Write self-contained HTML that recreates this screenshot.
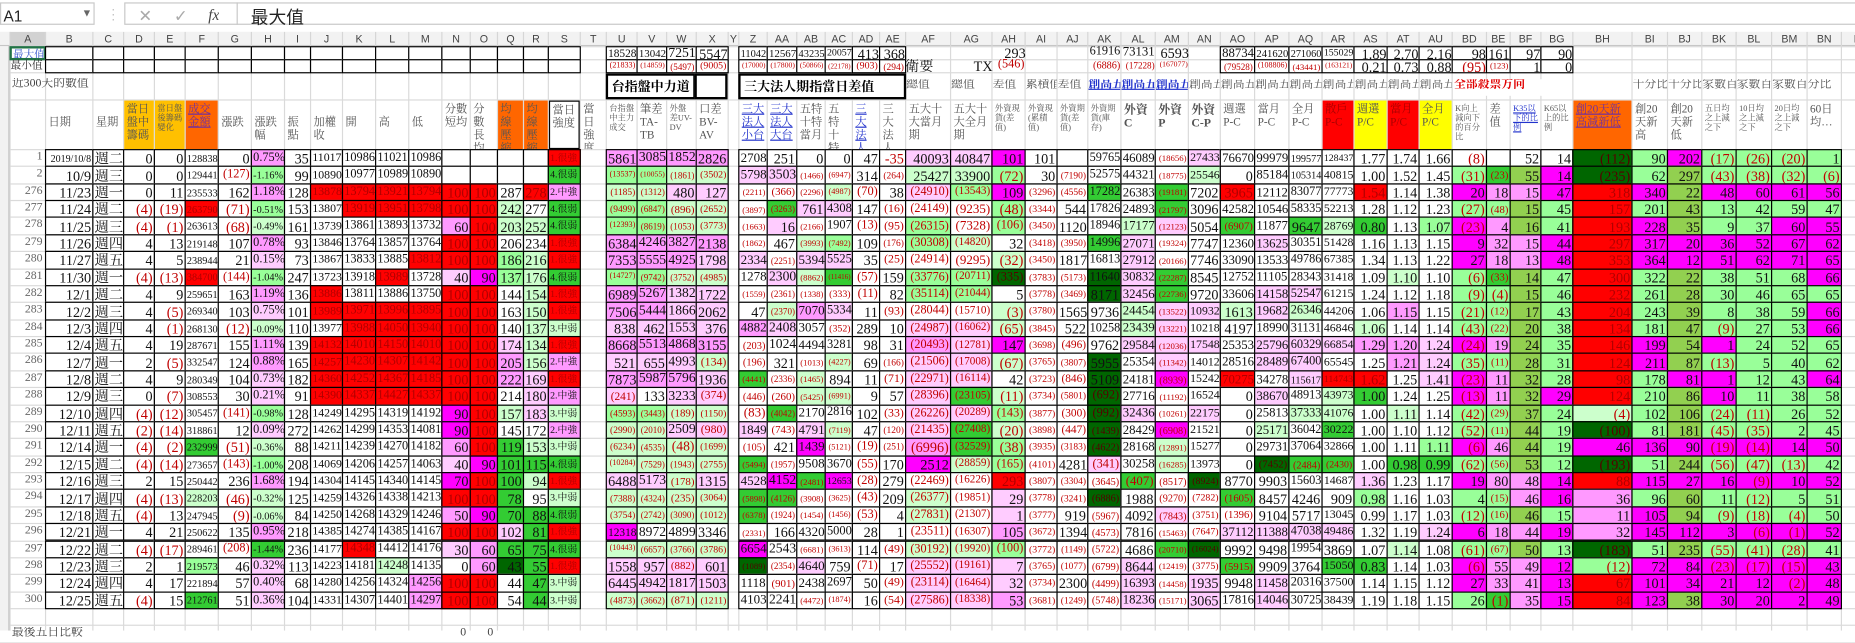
<!DOCTYPE html>
<html><head><meta charset="utf-8">
<style>
html,body{margin:0;padding:0;background:#fff;overflow:hidden;width:1855px;height:631px}
#wrap{position:absolute;left:0;top:0;width:1568px;height:533px;transform:scale(1.18304);transform-origin:0 0;font-family:"Liberation Serif","Noto Serif CJK SC","Noto Sans CJK TC",serif}
.c{position:absolute;box-sizing:border-box;overflow:hidden;white-space:nowrap;line-height:1}
</style></head><body>
<div id="wrap">
  <div class="c" style="left:0;top:2px;width:80px;height:19px;border:1px solid #c8c8c8;font:13px 'Liberation Sans',sans-serif;padding:3px 2px;color:#222">A1<span style="position:absolute;left:68px;top:3px;font-size:9px;color:#666">▼</span></div>
  <div class="c" style="left:90px;top:5px;width:6px;height:14px;font:12px sans-serif;color:#999">⋮</div>
  <div class="c" style="left:105px;top:2px;width:1470px;height:19px;border:1px solid #c8c8c8"></div>
  <div class="c" style="left:117px;top:5px;font:14px sans-serif;color:#aaa">✕</div>
  <div class="c" style="left:147px;top:5px;font:14px sans-serif;color:#aaa">✓</div>
  <div class="c" style="left:176px;top:5px;font:italic 13px 'Liberation Serif',serif;color:#444">fx</div>
  <div class="c" style="left:200px;top:2px;width:1px;height:19px;background:#c8c8c8"></div>
  <div class="c" style="left:212px;top:4px;font:15px 'Liberation Sans','Noto Sans CJK TC',sans-serif;color:#222">最大值</div>
</div>
<script>
const colDefs=[["A",8,38],["B",38,78],["C",78,104],["D",104,130],["E",130,156],["F",156,184],["G",184,212],["H",212,240],["I",240,262],["J",262,289],["K",289,317],["L",317,345],["M",345,373],["N",373,397],["O",397,420],["Q",420,442],["R",442,463],["S",463,490],["T",490,512],["U",512,538],["V",538,563],["W",563,588],["X",588,615],["Y",615,624],["Z",624,648],["AA",648,673],["AB",673,697],["AC",697,720],["AD",720,743],["AE",743,765],["AF",765,803],["AG",803,838],["AH",838,866],["AI",866,893],["AJ",893,919],["AK",919,947],["AL",947,976],["AM",976,1004],["AN",1004,1031],["AO",1031,1060],["AP",1060,1089],["AQ",1089,1117],["AR",1117,1144],["AS",1144,1172],["AT",1172,1199],["AU",1199,1227],["BD",1227,1256],["BE",1256,1276],["BF",1276,1302],["BG",1302,1329],["BH",1329,1379],["BI",1379,1409],["BJ",1409,1438],["BK",1438,1467],["BL",1467,1497],["BM",1497,1527],["BN",1527,1556],["BO",1556,1590]];
const dataCols=colDefs.map(c=>c[0]).filter(c=>c!=="T"&&c!=="Y"&&c!=="BO");
const rowLabels=["5","6","280","281","282","283","284","285","286","287","288","289","290","291","292","293","294","295","296","297","298","299","300","301","302","303","304"];
const rows=[
"1 2019/10/8 週二 0 0 128838 0 0.75%:P 35 11017 10986 11021 10986 _ _ _ _ 1.很強:R 5861:P 3085:P 1852:P 2826:P 2708 251 0 0 47 -35 40093:p 40847:p 101:M 101 _ 59765 46089 (18656) 27433:p 76670 99979 199577 128437 1.77 1.74 1.66 (8) _ 52 14 (112):D 90:g 202:M (17):g (26):g (20):g 1:g",
"2 10/9 週三 0 0 129441 (127) -1.16%:g 99 10890 10977 10989 10890 _ _ _ _ 4.很弱:G (13537):g (10055):g (1861):l (3502):l 5798:p 3503:p (1466) (6947) 314 (264) 25427:l 33900:l (72):g 30 (7190) 52575 44321 (18775) 25546:l 0 85184 105314 40815 1.00 1.52 1.45 (31):g (23):G 55:o 14:M (235):D 62:g 297:o (43):g (38):g (32):g (6):g",
"276 11/23 週一 0 11 235533 162 1.18%:P 128 13878:R 13794:R 13921:R 13794:R 100:R 100:R 287 278:R 2.中強:P (1185):l (1312):l 480:p 127:p (2211) (366) (2296) (4987):l (70) 38 (24910):p (13543):g 109:M (3296) (4556) 17282:G 26383 (19181):G 7202 3965:R 12112 83077 77773 1.54:R 1.14 1.38 20:M 18:P 15:P 47:M 318:R 340:M 22:o 48:M 60:M 61:M 56:M",
"277 11/24 週二 (4) (19) 263790:R (71) -0.51%:g 153 13807 13919:R 13951:R 13798:R 100:R 100:R 242:l 277 4.很弱:G (9499):g (6847):g (896):l (2652):l (3897) (3263):G 761:p 4308:p 147 (16) (24149) (9235) (48):g (3344) 544 17826 24893 (21797):G 3096 42582 10546 58335 52213 1.28 1.12 1.23 (27):g (48):g 15:o 45:g 157:R 201:g 43:o 13:g 42:g 59:g 47:g",
"278 11/25 週三 (4) (1) 263613 (68) -0.49%:l 161 13739 13861 13893 13732 60:P 100:R 203:l 252:l 4.很弱:G (12393):g (8619):g (1053):l (3773):l (1663) 16:p (2166) 1907 (13) (95) (26315):g (7328) (106):g (3450) 1120 18946 17177:l (12123):p 5054 (6907):G 11877 9647:G 28769:l 0.80:G 1.13 1.07:g (23):M 4:P 16:o 41:g 193:R 228:M 35:o 9:g 37:g 60:M 55:M",
"279 11/26 週四 4 13 219148 107 0.78%:P 93 13846 13764 13857 13764 100:R 100:R 206 234 1.很強:R 6384:P 4246:P 3827:P 2138:P (1862) 467 (3993):l (7492):g 109 (176) (30308):g (14820):l 32 (3418) (3950) 14996:G 27071:p (19324) 7747 12360 13625:p 30351 51428 1.16 1.13 1.15 9:M 32:P 15:P 44:M 297:R 317:M 20:M 36:M 52:M 67:M 62:M",
"280 11/27 週五 4 5 238944 21 0.15%:p 73 13867 13833 13885 13812:R 100:R 100:R 186:g 216:l 1.很強:R 7353:P 5555:P 4925:P 1798:p 2334:p (2251) 5394:p 5525:p 35 (25) (24914) (9295) (32):l (3450) 1817 16813 27912:p (20166) 7746 33090 13533 49786 67385 1.34 1.13 1.22 27:M 18:P 13:P 48:M 353:R 364:M 12:M 51:M 62:M 71:M 65:M",
"281 11/30 週一 (4) (13) 384700:R (144) -1.04%:g 247 13723 13918 13989:R 13728 40:p 90:M 137:g 176:l 4.很弱:G (14727):g (9742):g (3752):l (4985):l 1278 2300:p (8862):l (11416):G (57) 159 (33776):g (20711):g (335):D (3783) (5173) 11640:D 30832:p (22287):G 8545 12752 11105 28343 31418 1.09 1.10:l 1.10 (6):g (33):G 14:o 47:g 300:R 322:g 22:o 38:g 51:g 68:g 66:M",
"282 12/1 週二 4 9 259651 163 1.19%:P 136 13886:R 13811 13886 13750 100:R 100:R 144 154:l 1.很強:R 6989:P 5267:P 1382:p 1722:p (1559) (2361) (1338) (333) (11) 82 (35114):g (21044):g 5 (3778) (3469) 8171:D 32456:p (22736):G 9720 33606 14158:p 52547:p 61215 1.24 1.12 1.18 (9):g (4):g 15:o 46:g 232:R 261:g 28:o 30:g 46:g 65:g 65:g",
"283 12/2 週三 4 (5) 269340 103 0.75%:p 101 13989:R 13971:R 13996:R 13895:R 100:R 100:R 163 150:l 1.很強:R 7506:P 5444:P 1866:p 2062:p 47 (2370):l 7070:P 5334:p 11 (93) (28044) (15710) (3):l (3780) 1565 9736 24454:l (13522):p 10932:p 1613:l 19682:p 26346:l 44206 1.06 1.15:P 1.15 (21):g (12):g 17:o 43:g 204:R 243:g 39:o 8:g 38:g 59:g 66:M",
"284 12/3 週四 4 (1) 268130 (12) -0.09%:l 110 13977 13988:R 14050:R 13940:R 100:R 100:R 140 137:l 3.中弱:l 838:p 462:p 1553:p 376:p 4882:P 2408:p 3057 (352) 289 10 (24987):p (16062):p (65):l (3845) 522 10258 23439:l (13221):p 10218 4197 18990 31131 46846 1.06:l 1.14 1.14 (43):g (22):g 20:o 38:g 134:R 181:g 47:o (9):g 27:g 53:g 66:M",
"285 12/4 週五 4 19 287671 155 1.11%:P 139 14132:R 14010:R 14150:R 14010:R 100:R 100:R 174:p 134:l 1.很強:R 8668:P 5513:P 4868:P 3155:P (203) 1024 4494 3281 98 31 (20493):P (12781):p 147:M (3698) (496) 9762 29584:p (12036):p 17548:p 25353 25796:p 60329:p 66854:p 1.29:P 1.20:P 1.24:p (24):M 19:P 24:o 35:g 146:R 199:M 54:o 1:M 24:g 52:g 65:g",
"286 12/7 週一 2 (5) 332547 124 0.88%:P 165 14257:R 14230:R 14307:R 14142:R 100:R 100:R 205:P 156:l 2.中強:P 521:p 655:p 4993:p (134):l (196) 321 (1013) (4227):l 69 (166) (21506):p (17008):p (67):l (3765) (3807) 5955:D 25354 (11342):p 14012 28516 28489:p 67400:p 65545 1.25 1.21:P 1.24:p (35):g (11):g 28:o 31:g 124:R 211:M 87:o (13):g 5:g 40:g 62:g",
"287 12/8 週二 4 9 280349 104 0.73%:p 182 14360:R 14252:R 14367:R 14185:R 100:R 100:R 222:P 169:p 1.很強:R 7873:P 5987:P 5796:P 1936:p (4441):G (2336) (1465):l 894 11 (71) (22971):p (16114):p 42 (3723) (846) 5109:D 24181 (8939):M 15242 70275:R 34278 115617:p 114743:R 1.62:R 1.25 1.41:p (23):M 11:P 32:o 28:g 98:R 178:g 81:M 1:M 12:g 43:g 64:M",
"288 12/9 週三 0 (7) 308553 30 0.21%:p 91 14390:R 14337:R 14427:R 14337:R 100:R 100:R 214 180:p 2.中強:P (241):p 133 3233:p (374):p (446) (260) (5425):l (6991):l 9 57 (28396):p (23105):G (11):l (3734) (5801) (692):D 27716 (11192) 16524 0 38670:p 48913 43973:l 1.00:G 1.24 1.25 (13):M 11:P 32:o 29:M 124:R 210:g 86:o 10:M 11:g 38:g 58:g",
"289 12/10 週四 (4) (12) 305457 (141) -0.98%:g 128 14249 14295 14319 14192 90:M 100:R 157:l 183:p 3.中弱:l (4593):g (3443):g (189):l (1150):l (83) (4042):G 2170 2816 102 (33) (26226):p (20289):p (143):g (3877) (300) (992):D 32436:p (10261) 22175:p 0 25813 37333:l 41076:l 1.00 1.11:l 1.14 (42):g (29):g 37:o 24:g (4):l 102:g 106:o (24):g (11):g 26:g 52:g",
"290 12/11 週五 (2) (14) 318861 12 0.09%:p 272 14262 14299 14353 14081 90:M 100:R 145 172 2.中強:P (2990):l (2010):l 2509:p (980):p 1849:p (743) 4791:p (7119):l 47 (120) (21435):p (27408):G (20):l (3898) (447) (1439):D 28429 (6908):M 21521 0 25171:l 36042 30222:G 1.00 1.10 1.12 (52):g (11):g 44:o 19:g (100):D 81:g 181:o (45):g (35):g 2:g 45:g",
"291 12/14 週一 (4) (2) 232999:G (51) -0.36%:l 88 14211 14239 14270 14182 60:P 100:R 119:G 153:l 3.中弱:l (6234):l (4535):l (48):l (1699):l (105) 421 1439:M (5121) (19) (251) (6996):P (32529):G (38):g (3935) (3183) (4622):D 28168 (12891):l 15277 0 29731 37064 32866 1.00 1.11 1.11:g (6):M 46:P 44:o 19:g 46:M 136:M 90:M (19):M (14):M 14:M 50:M",
"292 12/15 週二 (4) (14) 273657 (143) -1.00%:g 208 14069 14206 14257 14063 40:p 90:M 101:G 115:G 4.很弱:G (10284):l (7529):l (1943):l (2755):l (5494):G (1957) 9508 3670 (55) 170 2512:M (28859):l (165):g (4101) 4281 (341):p 30258 (16285):l 13973 0 (7452):D (2484):G (2430):G 1.00 0.98:G 0.99:G (62):g (56):g 53:o 12:g (193):D 51:g 244:o (56):g (47):g (13):g 42:g",
"293 12/16 週三 2 15 250442 236 1.68%:P 194 14304 14145 14340 14145 70:M 100:R 100:G 94:l 1.很強:R 6488:p 5173:p (178):l 1315:p 4528:p 4152:M (2481):G 12653:M (28) 279 (22469) (16226) 293:R (3807) (3304) (3645) (407):G (8517) (8924):D 8770 9903 15603 14687 1.36:p 1.23 1.17 19:M 80:P 48:P 14:M 88:R 115:M 27:M 16:M (9):M 10:M 52:M",
"294 12/17 週四 (4) (13) 228203:l (46) -0.32%:l 125 14259 14326 14338 14213 100:R 100:R 78:G 95 3.中弱:l (7388):l (4324):l (235):l (3064):l (5898):G (4126):G (3908) (3625) (43) 209 (26377):l (19851) 29:p (3778) (3241) (6886):D 1988 (9270) (7282) (1605):G 8457 4246 909 0.98:g 1.16 1.03 4:g (15):g 46:P 16:M 36:P 96:g 60:o 11:g (12):g 5:g 51:g",
"295 12/18 週五 (4) 13 247945 (9) -0.06%:l 84 14250 14268 14329 14246 50:P 90:M 70:G 88:G 4.很弱:G (3754):l (2742):l (3090):l (1012):l (6378):G (1924) (1454) (1456) (53) 4 (27831):l (21307) 1:p (3777) 919 (5967) 4092 (7843):p (3751) (1396) 9104 5717 13045 0.99 1.17 1.03 (12):g (16):g 46:o 15:g 11:P 105:M 94:o (9):g (18):g (4):g 50:g",
"296 12/21 週一 4 21 250622 135 0.95%:P 218 14385 14274 14385 14167 100:R 100:R 102:p 81:G 1.很強:R 12318:M 8972 4899 3346 (2331) 166 4320 5000 28 1 (23511) (16307) 105:P (3672) 1394 (4573) 7816 (15463) (7647) 37112:p 11388:p 47038:p 49486:p 1.32 1.19 1.24:p 6:M 18:P 44:P 19:M 32:P 145:M 112:M 3:M (6):M (1):M 52:M",
"297 12/22 週二 (4) (17) 289461 (208) -1.44%:G 236 14177 14348:R 14412 14176 30:p 60:P 65:G 75:G 4.很弱:G (10443):l (6657):l (3766):l (3786):l 6654:M 2543 (6681) (3613) 114 (49) (30192):l (19920):l (100):g (3772) (1149) (5722) 4686 (20710):G (16024):D 9992 9498 19954 3869 1.07 1.14:l 1.08 (61):g (67):g 50:o 13:g (183):D 51:g 235:o (55):g (41):g (28):g 41:g",
"298 12/23 週三 2 1 219573:g 46 0.32%:p 113 14223 14181 14248:l 14135 0 60:P 43:D 55:G 1.很強:R 1558:p 957:p (882):p 601:p (1089):D (2354) 4640:p 759 (71) 17 (25552):p (19161):p 7:p (3765) (1077) (6799) 8644:p (12419) (3775) (5915):G 9909 3764 15050:G 0.83:G 1.14 1.03 (6):M 55:P 49:P 12:M (12):g 72:M 84:M (23):M (17):M (15):M 43:M",
"299 12/24 週四 4 17 221894 57 0.40%:p 68 14280 14256 14324 14256:P 100:R 100:R 44 47:G 3.中弱:l 6445:p 4942:p 1817:p 1503:p 1118 (901) 2438 2697 50 (49) (23114):p (16464):p 32:p (3734) 2300 (4499) 16393:p (14458) 1935:p 9948 11458:p 20316 37500 1.14 1.15 1.12 27:M 33:P 41:P 13:M 67:R 101:M 34:M 21:M 12:M (2):M 48:M",
"300 12/25 週五 (4) 15 212761:G 51 0.36%:p 104 14331 14307 14401 14297:P 100:R 100:R 54 44:G 3.中弱:l (4873):l (3662):l (871):l (1211):l 4103 2241 (4472) (1874) 16 (54) (27586):p (18338):p 53:P (3681) (1249) (5748) 18236:p (15171) 3065:p 17816 14046:p 30725 38439 1.19 1.18 1.15 26:g (1):G 35:P 15:M 84:R 123:M 38:o 30:M 20:M 2:M 49:M"
];
const maxRow={U:"18528",V:"13042",W:"7251",X:"5547",Z:"11042",AA:"12567",AB:"43235",AC:"20057",AD:"413",AE:"368",AH:"293",AK:"61916",AL:"73131",AM:"6593",AO:"88734",AP:"241620",AQ:"271060",AR:"155029",AS:"1.89",AT:"2.70",AU:"2.16",BD:"98",BE:"161",BF:"97",BG:"90"};
const minRow={U:"(21833)",V:"(14859)",W:"(5497)",X:"(9005)",Z:"(17000)",AA:"(17800)",AB:"(50866)",AC:"(22178)",AD:"(903)",AE:"(294)",AF:"衛要",AG:"TX",AH:"(546)",AK:"(6886)",AL:"(17228)",AM:"(167077)",AO:"(79528)",AP:"(108806)",AQ:"(43441)",AR:"(163121)",AS:"0.21",AT:"0.73",AU:"0.88",BD:"(95)",BE:"(123)",BF:"1",BG:"0"};
const headers={B:"日期",C:"星期",D:"當日盤中籌碼",E:"當日盤後籌碼變化",F:"成交金額",G:"漲跌",H:"漲跌幅",I:"振點",J:"加權收",K:"開",L:"高",M:"低",N:"分數短均",O:"分數長均",Q:"均線壓縮",R:"均線壓縮",S:"當日強度",T:"當日強度",U:"台指盤中主力成交",V:"筆差TA-TB",W:"外盤差UV-DV",X:"口差BV-AV",Z:"三大法人小台",AA:"三大法人大台",AB:"五特十特當月",AC:"五特十特全月",AD:"三大法人電子",AE:"三大法人金融",AF:"五大十大當月期",AG:"五大十大全月期",AH:"外資現貨(差值)",AI:"外資現(累積值)",AJ:"外資期貨(差值)",AK:"外資期貨(庫存)",AL:"外資C",AM:"外資P",AN:"外資C-P",AO:"週選P-C",AP:"當月P-C",AQ:"全月P-C",AR:"散戶P-C",AS:"週選P/C",AT:"當月P/C",AU:"全月P/C",BD:"K向上減向下的百分比",BE:"差值",BF:"K35以下的比例",BG:"K65以上的比例",BH:"創20天新高減新低",BI:"創20天新高",BJ:"創20天新低",BK:"五日均之上減之下",BL:"10日均之上減之下",BM:"20日均之上減之下",BN:"60日均…"};
const headerBg={D:"#ffc000",E:"#ffc000",F:"#ff6600",Q:"#ff6600",R:"#ff6600",AR:"#ff0000",AS:"#ffff00",AT:"#ff0000",AU:"#ffff00",BH:"#ff6600"};
const sectionLabels={AF:"總值",AG:"總值",AH:"差值",AI:"累積值",AJ:"差值",AK:"創高五",AL:"創高五",AM:"創高五",AN:"創高五",AO:"創高五",AP:"創高五",AQ:"創高五",AR:"創高五",AS:"創高五",AT:"創高五",AU:"創高五",BI:"千分比",BJ:"千分比",BK:"家數百",BL:"家數百",BM:"家數百分比"};
const palette={w:"#ffffff",p:"#ffccff",P:"#ff99ff",M:"#ff00ff",l:"#ccffcc",g:"#99ff99",G:"#33cc33",D:"#006600",R:"#ff0000",o:"#92d050"};

const wrap=document.getElementById('wrap');
const C={};colDefs.forEach(c=>C[c[0]]={x:c[1],w:c[2]-c[1]});
const ROW_TOP=126,RH=14.37;
function cell(x,y,w,h,txt,st){
  const d=document.createElement('div');d.className='c';
  d.style.cssText=`left:${x}px;top:${y}px;width:${w}px;height:${h}px;`+(st||'');
  if(txt!==undefined)d.textContent=txt;
  wrap.appendChild(d);return d;
}
for(const c of colDefs){const g=cell(c[1],27,1,506,undefined,'background:#dadada');}
const gy=[27,39,50,61,84,126];for(let i=1;i<=29;i++)gy.push(ROW_TOP+i*RH);
for(const y of gy){const g=cell(0,y,1568,1,undefined,'background:#dadada');}
const hs=cell(0,27,1568,12,undefined,'background:#f2f2f2;border-bottom:1px solid #c6c6c6');
const rs=cell(0,39,8,494,undefined,'background:#f2f2f2;border-right:1px solid #c6c6c6');
for(const c of colDefs){
  const h=cell(c[1],27,c[2]-c[1],12,c[0],`text-align:center;font:9px 'Liberation Sans',sans-serif;color:#444;padding-top:1px;border-left:1px solid #d6d6d6;${c[0]==='A'?'background:#d2d2d2;':''}`);
  
  
}
function fitSize(t,w,base){const n=[...t].reduce((s,ch)=>s+(ch.charCodeAt(0)>255?1.0:0.5),0);return Math.max(5,Math.min(base,(w-2)/Math.max(n,1)));}
function valueCell(col,y,h,txt,bg,border,name){
  const c=C[col];
  const red=/^\(/.test(txt)||/^-\d/.test(txt)&&txt.indexOf('%')<0;
  let color=red?'#c00000':'#111';
  if(bg==='#006600')color=red?'#550000':'#111';
  if(bg==='#ff0000')color='#b00000';
  const fs=fitSize(txt,c.w,12);
  const isCJK=/[\u4e00-\u9fff]/.test(txt);
  const d=cell(c.x,y,c.w+1,h+1,txt,`background:${bg};${border?'border:1px solid #000;':''}font-size:${fs}px;color:${color};text-align:${isCJK?'left':'right'};padding:${(h-fs)/2}px 1px 0 1px;`);
  
  
  return d;
}
const a1=cell(8,39,31,12,'最大值',"font-size:9px;color:#3355cc;text-decoration:underline;padding:1px;border:2px solid #217346;");
const a2=cell(8,50,31,11,'最小值',"font-size:9px;color:#333;padding:1px");
const boxed=new Set(["B","C","D","E","F","G","H","I","J","K","L","M","N","O","Q","R","S","U","V","W","X","Z","AA","AB","AC","AD","AE","AO","AP","AQ","AR","AS","AT","AU","BD","BE","BF","BG"]);
for(const col of boxed){
  valueCell(col,39,11,maxRow[col]||'','#fff',true,'max-'+col.toLowerCase());
  valueCell(col,50,11,minRow[col]||'','#fff',true,'min-'+col.toLowerCase());
}
for(const col of ["AF","AG","AH","AK","AL","AM"]){
  if(maxRow[col])valueCell(col,39,11,maxRow[col],'transparent',false,'max-'+col.toLowerCase());
  if(minRow[col])valueCell(col,50,11,minRow[col],'transparent',false,'min-'+col.toLowerCase());
}
const r3=cell(10,66,100,14,'近300天的數值','font-size:10px;color:#444');
const b1=cell(512,62,76,22,'台指盤中力道','border:2px solid #000;font-size:11px;font-weight:bold;padding:5px 3px;background:#fff');
const b1b=cell(587,62,28,22,'','border:2px solid #000;background:#fff');
const b2=cell(624,62,142,22,'三大法人期指當日差值','border:2px solid #000;font-size:11px;font-weight:bold;padding:5px 3px;background:#fff');
for(const col in sectionLabels){
  const c=C[col];const blue=['AK','AL','AM'].includes(col);
  const d=cell(c.x+1,67,col==='BM'?58:c.w-1,14,sectionLabels[col],`font-size:10px;color:${blue?'#2233cc':'#555'};${blue?'text-decoration:underline;font-weight:bold;':''}`);
  
}
const bd=cell(1229,67,90,14,'全部殺票方向','font-size:10px;color:#e00000;font-weight:bold;background:#fff');
for(const col in headers){
  const c=C[col];const bg=headerBg[col]||'transparent';
  const t=headers[col];
  const blue=['Z','AA','AD','BF'].includes(col),purple=['F','BH'].includes(col);
  const small=t.length>7&&c.w<40;
  const d=cell(c.x+1,85,c.w-1,41,t,`background:${bg};white-space:normal;word-break:break-all;font-size:${small?7:9.5}px;line-height:${small?8:11}px;padding:${['B','C','G','H','I','J','K','L','M'].includes(col)?'14px':'3px'} 2px 0 2px;color:${blue?'#2233cc':purple?'#7030a0':(['AR','AT'].includes(col)?'#a00':'#555')};${blue||purple?'text-decoration:underline;':''}${['AL','AM','AN'].includes(col)?'font-weight:bold;font-size:10px;':''}${col==='S'?'border:1px solid #000;':''}`);
  
  
}
rows.forEach((r,i)=>{
  const toks=r.split(' ');
  const y=ROW_TOP+i*RH;
  const rl=cell(0,y,8,RH,'','');
  
  
  toks.forEach((tk,j)=>{
    const col=dataCols[j];if(!col)return;
    let txt=tk,code='w';
    const k=tk.lastIndexOf(':');
    if(k>0&&palette[tk.slice(k+1)]){txt=tk.slice(0,k);code=tk.slice(k+1);}
    if(txt==='_')txt='';
    if(col==='A'){
      const d=cell(C.A.x,y,C.A.w,RH,txt,`font-size:10px;color:#666;text-align:right;padding:2px 2px 0 0`);
      
      
      return;
    }
    valueCell(col,y,RH,txt,palette[code],true,'cell-'+col.toLowerCase()+'-'+rowLabels[i]);
  });
});
const lastY=ROW_TOP+28*RH;
const bl=cell(10,lastY+2,100,12,'最後五日比較','font-size:10px;color:#444');
for(const col of ['N','O']){
  const d=cell(C[col].x,lastY+2,C[col].w-3,12,'0','font-size:10px;text-align:right;color:#444');
  
  
}
</script>
</body></html>
